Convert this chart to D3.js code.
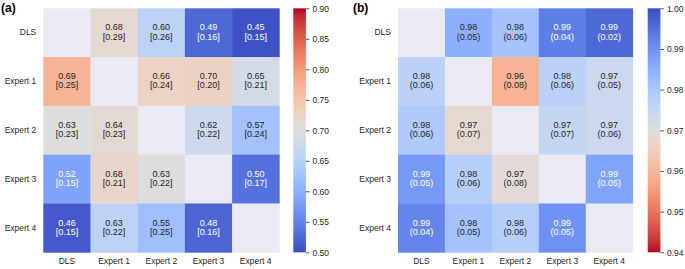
<!DOCTYPE html>
<html lang="en">
<head>
<meta charset="utf-8">
<title>Agreement heatmaps</title>
<script src="https://d3js.org/d3.v7.min.js"></script>
<style>
body { margin: 0; background: #fff; }
text { font-family: "Liberation Sans", Arial, sans-serif; fill: #262626; }
</style>
</head>
<body>
<div id="chart"></div>
<script>
// raters (rows and columns)
var raters = ["DLS", "Expert 1", "Expert 2", "Expert 3", "Expert 4"];

// panel (a): mean [sd], diagonal empty
var aMean = [
  [null, 0.68, 0.60, 0.49, 0.45],
  [0.69, null, 0.66, 0.70, 0.65],
  [0.63, 0.64, null, 0.62, 0.57],
  [0.52, 0.68, 0.63, null, 0.50],
  [0.46, 0.63, 0.55, 0.48, null]
];
var aSd = [
  [null, 0.29, 0.26, 0.16, 0.15],
  [0.25, null, 0.24, 0.20, 0.21],
  [0.23, 0.23, null, 0.22, 0.24],
  [0.15, 0.21, 0.22, null, 0.17],
  [0.15, 0.22, 0.25, 0.16, null]
];
// colour-bar value each cell is shaded at
var aShade = [
  [null, 0.712, 0.656, 0.525, 0.505],
  [0.773, null, 0.725, 0.727, 0.688],
  [0.700, 0.710, null, 0.676, 0.625],
  [0.585, 0.720, 0.697, null, 0.534],
  [0.512, 0.656, 0.620, 0.522, null]
];
var aTicks = [0.50, 0.55, 0.60, 0.65, 0.70, 0.75, 0.80, 0.85, 0.90];

// panel (b): mean (sd)
var bMean = [
  [null, 0.98, 0.98, 0.99, 0.99],
  [0.98, null, 0.96, 0.98, 0.97],
  [0.98, 0.97, null, 0.97, 0.97],
  [0.99, 0.98, 0.97, null, 0.99],
  [0.99, 0.98, 0.98, 0.99, null]
];
var bSd = [
  [null, 0.05, 0.06, 0.04, 0.02],
  [0.06, null, 0.08, 0.06, 0.05],
  [0.06, 0.07, null, 0.07, 0.06],
  [0.05, 0.06, 0.08, null, 0.05],
  [0.04, 0.05, 0.06, 0.05, null]
];
var bShade = [
  [null, 0.985, 0.981, 0.993, 0.996],
  [0.977, null, 0.959, 0.977, 0.974],
  [0.979, 0.968, null, 0.975, 0.974],
  [0.989, 0.978, 0.969, null, 0.987],
  [0.992, 0.981, 0.978, 0.990, null]
];
var bTicks = [0.94, 0.95, 0.96, 0.97, 0.98, 0.99, 1.00];

// matplotlib coolwarm (Moreland), blue -> red
var coolwarm = [
  [59,76,192],[68,90,204],[77,104,215],[87,117,225],[98,130,234],[108,142,241],
  [119,154,247],[130,165,251],[141,176,254],[152,185,255],[163,194,255],[174,201,253],
  [184,208,249],[194,213,244],[204,217,238],[213,219,230],[221,221,221],[229,216,209],
  [236,211,197],[241,204,184],[245,196,172],[247,187,159],[247,177,147],[247,166,134],
  [244,154,123],[241,141,111],[236,127,99],[229,112,89],[222,96,77],[213,80,66],
  [203,62,56],[192,40,47],[180,4,38]
];
var cwScale = d3.scaleLinear()
  .domain(coolwarm.map(function (c, i) { return i / (coolwarm.length - 1); }))
  .range(coolwarm.map(function (c) { return d3.rgb(c[0], c[1], c[2]); }))
  .interpolate(d3.interpolateRgb)
  .clamp(true);

var w = 685, h = 269;
var svg = d3.select("#chart").append("svg")
  .attr("width", w)
  .attr("height", h);

function luminance(col) {
  var c = d3.rgb(col);
  var f = function (v) {
    v = v / 255;
    return v <= 0.03928 ? v / 12.92 : Math.pow((v + 0.055) / 1.055, 2.4);
  };
  return 0.2126 * f(c.r) + 0.7152 * f(c.g) + 0.0722 * f(c.b);
}

function drawPanel(opt) {
  var x = d3.scaleBand().domain(raters).range([opt.x0, opt.x1]);
  var y = d3.scaleBand().domain(raters).range([opt.y0, opt.y1]);
  var t = d3.scaleLinear().domain(opt.domain).range([0, 1]);
  var colour = function (v) { return cwScale(t(v)); };

  var g = svg.append("g");

  var cells = [];
  opt.mean.forEach(function (row, i) {
    row.forEach(function (m, j) {
      cells.push({ r: raters[i], c: raters[j], m: m, sd: opt.sd[i][j], s: opt.shade[i][j] });
    });
  });

  var cell = g.selectAll("g.cell")
    .data(cells)
    .enter()
    .append("g")
    .attr("class", "cell");

  cell.append("rect")
    .attr("x", function (d) { return x(d.c); })
    .attr("y", function (d) { return y(d.r); })
    .attr("width", x.bandwidth() + 0.4)
    .attr("height", y.bandwidth() + 0.4)
    .attr("fill", function (d) { return d.m == null ? "#eaeaf2" : colour(d.s); });

  var lab = cell.filter(function (d) { return d.m != null; });
  lab.append("text")
    .attr("x", function (d) { return x(d.c) + x.bandwidth() / 2; })
    .attr("y", function (d) { return y(d.r) + y.bandwidth() / 2 - 4.7; })
    .attr("text-anchor", "middle")
    .attr("dominant-baseline", "middle")
    .style("font-size", "9px")
    .style("fill", function (d) { return luminance(colour(d.s)) > 0.408 ? "#262626" : "#ffffff"; })
    .text(function (d) { return d.m.toFixed(2); });
  lab.append("text")
    .attr("x", function (d) { return x(d.c) + x.bandwidth() / 2; })
    .attr("y", function (d) { return y(d.r) + y.bandwidth() / 2 + 4.5; })
    .attr("text-anchor", "middle")
    .attr("dominant-baseline", "middle")
    .style("font-size", "9px")
    .style("fill", function (d) { return luminance(colour(d.s)) > 0.408 ? "#262626" : "#ffffff"; })
    .text(function (d) { return opt.open + d.sd.toFixed(2) + opt.close; });

  // axes without tick marks
  var xAxis = g.append("g")
    .attr("transform", "translate(0," + (opt.y1 + 4) + ")")
    .call(d3.axisBottom(x).tickSize(0).tickPadding(2));
  var yAxis = g.append("g")
    .attr("transform", "translate(" + (opt.x0 - 7) + ",0)")
    .call(d3.axisLeft(y).tickSize(0).tickPadding(0));
  [xAxis, yAxis].forEach(function (a) {
    a.select(".domain").remove();
    a.selectAll("text")
      .style("font-size", "8.5px")
      .style("font-family", "'Liberation Sans', Arial, sans-serif")
      .attr("fill", "#262626");
  });

  // colour bar
  var gradId = "grad" + opt.id;
  var grad = svg.append("defs").append("linearGradient")
    .attr("id", gradId)
    .attr("x1", 0).attr("y1", opt.flip ? 0 : 1)
    .attr("x2", 0).attr("y2", opt.flip ? 1 : 0);
  grad.selectAll("stop")
    .data(coolwarm)
    .enter()
    .append("stop")
    .attr("offset", function (c, i) { return (i / (coolwarm.length - 1) * 100) + "%"; })
    .attr("stop-color", function (c) { return d3.rgb(c[0], c[1], c[2]); });

  var cy = d3.scaleLinear()
    .domain(d3.extent(opt.ticks))
    .range([opt.y1, opt.y0]);
  svg.append("rect")
    .attr("x", opt.cbx)
    .attr("y", opt.y0)
    .attr("width", opt.cbw)
    .attr("height", opt.y1 - opt.y0)
    .attr("fill", "url(#" + gradId + ")");
  var cAxis = svg.append("g")
    .attr("transform", "translate(" + (opt.cbx + opt.cbw) + ",0)")
    .call(d3.axisRight(cy).tickValues(opt.ticks).tickSize(3.5).tickPadding(3)
      .tickFormat(d3.format(".2f")));
  cAxis.select(".domain").remove();
  cAxis.selectAll("line").attr("stroke", "#262626").attr("stroke-width", 0.8);
  cAxis.selectAll("text")
    .style("font-size", "8.5px")
    .style("font-family", "'Liberation Sans', Arial, sans-serif")
    .attr("fill", "#262626");

  svg.append("text")
    .attr("x", opt.labx)
    .attr("y", 11.5)
    .style("font-size", "12px")
    .style("font-weight", "bold")
    .style("fill", "#000")
    .text(opt.label);
}

drawPanel({
  id: "a", label: "(a)", labx: 1,
  x0: 43.3, x1: 279.3, y0: 8.3, y1: 252.3,
  mean: aMean, sd: aSd, shade: aShade, open: "[", close: "]",
  domain: [0.50, 0.90], flip: false,
  ticks: aTicks, cbx: 293.3, cbw: 12.6
});

drawPanel({
  id: "b", label: "(b)", labx: 353,
  x0: 398, x1: 632.7, y0: 8.3, y1: 252.3,
  mean: bMean, sd: bSd, shade: bShade, open: "(", close: ")",
  domain: [1.00, 0.94], flip: true,
  ticks: bTicks, cbx: 647.7, cbw: 12.7
});
</script>
</body>
</html>
